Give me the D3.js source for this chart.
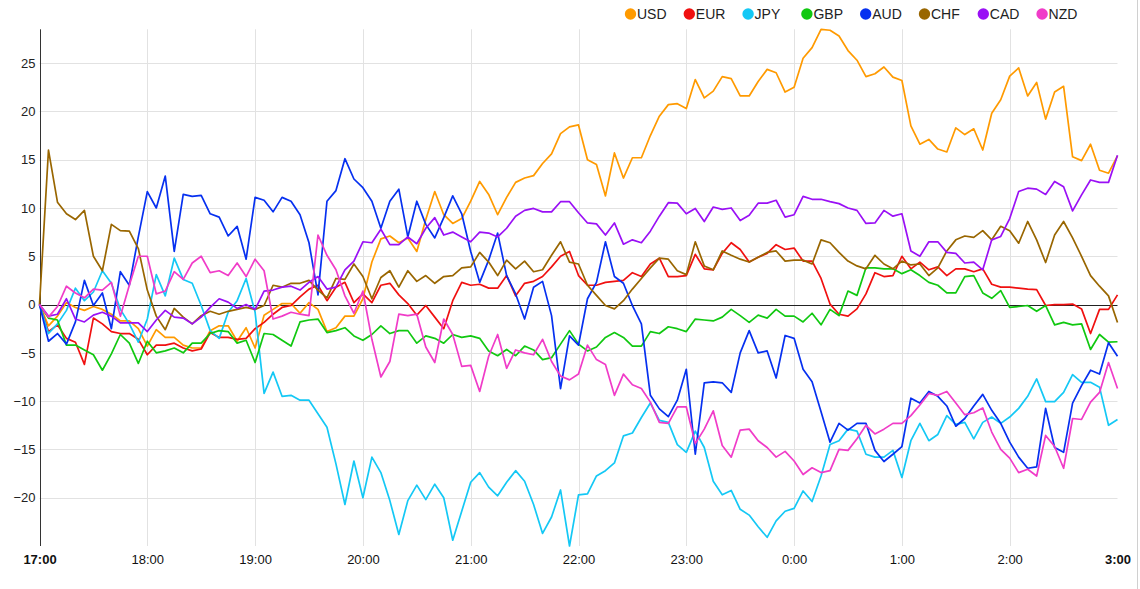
<!DOCTYPE html>
<html>
<head>
<meta charset="utf-8">
<script src="https://cdn.jsdelivr.net/npm/d3@7"></script>
<style>
  html, body { margin: 0; padding: 0; background: #fff; }
  svg { display: block; font-family: Arial, "Liberation Sans", sans-serif; }
</style>
</head>
<body>
<svg id="chart" width="1140" height="589"></svg>
<script>
// ---------- data ----------
const currencies = ["USD", "EUR", "JPY", "GBP", "AUD", "CHF", "CAD", "NZD"];
const colors = ["#ff9a00", "#f01010", "#14c8f5", "#10c810", "#0630f0", "#996600", "#9a10f5", "#f03cc8"];

const xTickLabels = ["17:00", "18:00", "19:00", "20:00", "21:00", "22:00", "23:00", "0:00", "1:00", "2:00", "3:00"];
const yTicks = [-20, -15, -10, -5, 0, 5, 10, 15, 20, 25];

const USD = [0, -2.2, -1.2, 0.2, -0.3, -0.6, -0.2, -0.5, -1.0, -1.7, -1.7, -2.5, -4.3, -2.6, -3.4, -3.4, -4.2, -4.5, -4.5, -2.7,
  -2.2, -2.2, -3.8, -2.4, -4.5, -1.1, -0.5, 0.1, 0.1, -0.9, 0.2, -0.5, -2.8, -2.4, -1.2, -1.2, 0.6, 4.4, 6.8, 7.1,
  6.4, 6.9, 5.5, 8.8, 11.7, 9.3, 8.4, 8.9, 10.7, 12.75, 11.4, 9.3, 11.1, 12.65, 13.1, 13.35, 14.6, 15.6, 17.7, 18.4,
  18.6, 15.0, 14.5, 11.25, 15.7, 13.1, 15.2, 15.2, 17.5, 19.5, 20.7, 20.8, 20.3, 23.3, 21.4, 22.1, 23.6, 23.4, 21.6, 21.6,
  23.1, 24.35, 24.0, 22.0, 22.5, 25.5, 26.6, 28.5, 28.4, 27.8, 26.3, 25.3, 23.6, 23.9, 24.6, 23.55, 23.2, 18.5, 16.6, 17.1,
  16.1, 15.8, 18.3, 17.6, 18.2, 16.0, 19.8, 21.2, 23.65, 24.5, 21.6, 23.0, 19.2, 22.0, 22.6, 15.3, 14.9, 16.6, 13.9, 13.6, 15.4];

const EUR = [0, -2.8, -2.1, -3.5, -3.9, -6.2, -1.4, -2.0, -2.8, -3.0, -3.0, -3.6, -5.2, -4.2, -4.2, -4.0, -4.5, -4.8, -4.6, -2.9,
  -3.4, -3.4, -3.6, -3.5, -2.5, -1.85, -1.0, -0.3, -0.1, 0.8, 1.6, 2.0, 0.4, 1.8, 2.3, 0.2, 1.1, 0.2, 2.0, 2.2,
  1.0, 0.1, -1.1, -0.1, -1.3, -2.5, 0.4, 2.3, 2.0, 2.1, 1.7, 1.7, 3.0, 0.9, 2.2, 2.4, 2.9, 3.9, 5.0, 5.5,
  3.0, 2.0, 2.0, 2.3, 2.4, 2.5, 3.3, 2.9, 4.2, 4.8, 2.9, 2.9, 3.0, 5.2, 3.7, 3.6, 5.3, 6.4, 5.7, 4.4,
  4.9, 5.3, 6.2, 5.7, 5.85, 4.5, 4.5, 2.7, 0.05, -1.0, -1.2, -0.45, 1.1, 3.3, 2.9, 3.0, 5.0, 3.7, 4.4, 3.6,
  3.9, 3.0, 3.7, 3.7, 3.4, 3.7, 2.1, 1.8, 1.8, 1.7, 1.6, 1.55, -0.1, 0, 0, 0.05, -0.45, -3.0, -0.5, -0.5, 1.0];

const JPY = [0, -3.0, -2.0, -0.6, 1.7, 0.4, 1.3, 3.5, 2.2, -0.5, -2.0, -3.9, -1.5, 3.1, 0.9, 4.8, 2.6, 2.2, -0.1, -2.7,
  -3.5, -0.8, 0.4, 2.7, -0.8, -9.2, -7.0, -9.5, -9.4, -9.9, -9.9, -11.3, -12.7, -16.5, -20.7, -16.2, -20.0, -15.8, -17.4, -20.3,
  -23.8, -20.3, -18.7, -20.2, -18.6, -20.0, -24.4, -21.4, -18.4, -17.4, -18.9, -19.8, -18.4, -17.2, -18.3, -20.7, -23.7, -22.0, -19.2, -25.0,
  -19.7, -19.6, -17.75, -17.2, -16.4, -13.6, -13.3, -11.7, -10.2, -12.0, -12.2, -14.5, -15.3, -13.1, -14.8, -18.3, -19.7, -19.25, -21.2, -21.8,
  -23.0, -24.1, -22.4, -21.4, -21.1, -19.3, -20.4, -17.75, -14.5, -14.1, -12.9, -13.1, -15.5, -15.8, -15.8, -15.1, -17.9, -14.1, -12.3, -14.1,
  -13.45, -11.5, -12.4, -12.2, -13.9, -12.2, -11.65, -12.3, -11.65, -10.75, -9.5, -7.7, -10.05, -10.05, -9.1, -7.25, -8.05, -8.05, -8.55, -12.5, -11.9];

const GBP = [0, -1.4, -1.6, -4.2, -4.2, -4.7, -5.2, -6.8, -5.1, -3.1, -4.0, -6.1, -3.8, -5.0, -4.8, -4.5, -5.0, -4.0, -4.0, -3.0,
  -2.7, -2.8, -4.0, -3.7, -6.0, -3.0, -3.1, -3.7, -4.3, -1.8, -1.6, -1.5, -2.9, -2.7, -2.4, -3.25, -3.7, -3.1, -2.2, -3.0,
  -2.7, -2.7, -4.0, -3.25, -3.5, -4.0, -3.1, -3.4, -3.25, -3.5, -4.8, -5.3, -4.65, -5.3, -4.3, -4.7, -5.7, -5.5, -4.1, -2.7,
  -4.1, -4.8, -4.4, -3.4, -2.9, -3.4, -4.3, -4.3, -2.8, -3.0, -2.3, -2.5, -2.8, -1.5, -1.6, -1.7, -1.3, -0.5, -1.15, -1.85,
  -1.1, -1.4, -0.5, -1.2, -1.2, -1.8, -0.9, -2.1, -0.5, -1.15, 1.4, 0.95, 3.8, 3.8, 3.7, 3.7, 3.2, 3.6, 3.0, 2.3,
  2.0, 1.2, 1.2, 2.9, 3.0, 1.2, 0.65, 1.45, -0.3, -0.2, -0.1, -0.7, -0.1, -2.1, -1.85, -2.1, -2.0, -4.65, -3.1, -3.9, -3.85];

const AUD = [0, -3.8, -3.0, -4.1, -1.8, 2.5, -0.1, 1.2, -2.5, 3.4, 2.0, 7.0, 11.7, 10.0, 13.3, 5.5, 11.4, 11.2, 11.3, 9.4,
  9.05, 7.1, 8.1, 4.7, 11.1, 10.8, 9.6, 11.1, 10.7, 9.3, 6.4, 1.0, 10.7, 11.8, 15.1, 13.0, 12.1, 10.7, 7.9, 10.7,
  11.95, 7.0, 10.7, 8.3, 6.9, 9.0, 11.25, 9.4, 5.5, 2.3, 4.6, 7.4, 3.0, 1.1, -1.5, 1.8, 2.4, -1.15, -8.7, -3.25,
  -4.2, 0.6, 2.3, 6.5, 2.9, 2.2, -0.1, -2.0, -9.4, -10.8, -11.6, -9.9, -6.7, -15.5, -8.1, -8.0, -8.1, -9.1, -5.0, -2.7,
  -5.0, -4.8, -7.6, -3.2, -3.5, -6.7, -8.0, -11.1, -14.25, -12.3, -13.0, -12.3, -12.3, -15.1, -16.25, -15.5, -14.7, -9.7, -10.2, -9.0,
  -9.5, -10.5, -12.6, -11.8, -10.5, -9.3, -10.95, -12.3, -14.25, -15.8, -16.95, -16.8, -10.75, -14.8, -15.3, -10.2, -8.4, -6.8, -7.2, -3.95, -5.35];

const CHF = [0, 16.0, 10.6, 9.4, 8.8, 9.75, 5.0, 3.5, 8.3, 7.65, 7.6, 5.8, 1.5, -1.2, -2.6, -0.4, -1.3, -2.0, -1.15, -0.7,
  -1.0, -0.7, -0.5, -0.3, -0.5, -0.1, 2.0, 1.8, 2.2, 2.2, 2.5, 1.5, 0.7, 2.7, 2.6, 4.2, 2.9, 0.6, 2.8, 3.5,
  1.8, 3.5, 2.4, 3.0, 2.2, 2.9, 3.0, 3.8, 3.9, 5.4, 4.4, 3.0, 4.6, 3.7, 4.5, 3.4, 3.6, 5.1, 6.5, 4.4,
  4.2, 2.0, 0.95, -0.1, -0.45, 0.4, 1.6, 2.7, 3.8, 4.8, 4.7, 3.5, 3.1, 6.5, 4.0, 3.6, 5.55, 5.1, 4.7, 4.4,
  4.9, 5.4, 5.55, 4.5, 4.6, 4.6, 4.2, 6.7, 6.4, 5.4, 4.5, 4.0, 3.7, 5.1, 4.2, 3.7, 4.5, 4.1, 4.2, 3.0,
  3.8, 5.55, 6.7, 7.1, 6.95, 7.65, 6.7, 8.1, 7.65, 6.35, 8.6, 6.7, 4.35, 7.2, 8.6, 6.9, 5.0, 3.0, 1.9, 0.9, -1.85];

const CAD = [0, -1.2, -1.0, 0.6, -1.5, -1.8, -1.1, -0.8, -1.2, -1.9, -1.9, -1.9, -2.8, -1.6, -0.6, -1.3, -1.4, -2.0, -1.3, -0.3,
  0.6, 0.25, -0.4, 0, -0.5, 1.4, 1.5, 1.8, 1.9, 1.5, 2.3, 2.9, 1.6, 1.8, 3.6, 4.5, 6.5, 6.4, 7.8, 6.2,
  6.2, 7.0, 6.3, 7.9, 9.0, 7.2, 7.5, 7.0, 6.5, 7.5, 7.4, 7.0, 7.9, 9.15, 9.75, 9.95, 9.6, 9.6, 10.65, 10.65,
  9.5, 8.45, 8.35, 7.2, 8.45, 6.25, 6.7, 6.4, 7.6, 9.15, 10.55, 10.5, 9.4, 9.95, 8.6, 10.1, 9.85, 10.0, 8.7, 9.25,
  10.5, 10.5, 10.8, 9.05, 9.3, 11.2, 10.9, 10.9, 10.65, 10.45, 10.0, 9.75, 8.4, 8.45, 9.75, 9.15, 9.4, 5.55, 5.0, 6.5,
  6.5, 5.4, 5.3, 4.3, 4.4, 3.6, 6.7, 7.05, 8.9, 11.7, 12.05, 11.95, 11.4, 12.75, 12.2, 9.7, 11.35, 12.9, 12.65, 12.65, 15.45];

const NZD = [0, -1.3, -0.2, 1.9, 1.2, 0.7, 1.6, 1.5, 2.3, -1.2, 2.0, 5.0, 5.0, 1.1, 1.4, 3.4, 2.6, 4.3, 5.0, 3.3,
  3.5, 3.0, 4.3, 2.9, 4.7, 3.5, -1.5, -1.2, -0.8, -1.0, -1.15, 7.2, 5.1, 3.6, 0.9, -0.9, 1.4, -3.6, -7.5, -5.9,
  -1.0, -1.15, -1.0, -4.4, -6.0, -1.5, -3.1, -6.4, -6.3, -9.0, -5.35, -3.1, -6.6, -4.7, -5.0, -5.2, -3.6, -5.9, -7.4, -7.8,
  -7.2, -4.2, -5.7, -6.2, -9.4, -7.2, -8.3, -8.7, -10.1, -12.2, -12.3, -10.6, -10.6, -14.4, -12.9, -11.0, -14.6, -15.8, -13.0, -12.9,
  -14.1, -14.8, -15.8, -15.2, -16.2, -17.6, -16.9, -17.4, -17.2, -15.0, -15.1, -13.9, -12.5, -13.4, -12.9, -12.3, -12.3, -11.5, -10.4, -9.2,
  -9.4, -9.0, -10.2, -11.4, -11.2, -10.7, -13.2, -15.0, -15.9, -17.4, -17.05, -17.75, -13.55, -14.7, -16.95, -11.8, -11.9, -10.1, -9.1, -6.0, -8.7];

const seriesValues = [USD, EUR, JPY, GBP, AUD, CHF, CAD, NZD];

// ---------- layout ----------
const W = 1140, H = 589;
const plot = { left: 39.5, right: 1117.5, top: 29.3, bottom: 546 };

const svg = d3.select("#chart");

const start = new Date(2020, 0, 1, 17, 0);
const end = new Date(2020, 0, 2, 3, 0);
const times = d3.timeMinute.every(5).range(start, d3.timeMinute.offset(end, 1));
const hourTicks = d3.timeHour.range(start, d3.timeMinute.offset(end, 1));

const x = d3.scaleTime().domain([start, end]).range([plot.left, plot.right]);
const allVals = seriesValues.flat();
const y = d3.scaleLinear().domain(d3.extent(allVals)).range([plot.bottom, plot.top]);

// gridlines
const grid = svg.append("g").attr("class", "grid");
grid.selectAll("line.h").data(yTicks.filter(d => d !== 0)).join("line")
  .attr("x1", plot.left).attr("x2", plot.right)
  .attr("y1", d => Math.round(y(d)) + 0.5).attr("y2", d => Math.round(y(d)) + 0.5)
  .attr("stroke", "#e2e2e2").attr("stroke-width", 1);
grid.selectAll("line.v").data(hourTicks.slice(1, -1)).join("line")
  .attr("x1", d => Math.round(x(d)) + 0.5).attr("x2", d => Math.round(x(d)) + 0.5)
  .attr("y1", plot.top).attr("y2", plot.bottom)
  .attr("stroke", "#e2e2e2").attr("stroke-width", 1);

// y axis labels
const yAxis = d3.axisLeft(y).tickValues(yTicks).tickSize(0).tickPadding(4);
const yg = svg.append("g").attr("transform", `translate(${plot.left},0)`).call(yAxis);
yg.select(".domain").remove();
yg.selectAll("text").attr("font-size", 13).attr("fill", "#222")
  .attr("font-family", "Arial, 'Liberation Sans', sans-serif");

// x axis labels
const xAxis = d3.axisBottom(x).tickValues(hourTicks).tickSize(0).tickPadding(9)
  .tickFormat((d, i) => xTickLabels[i]);
const xg = svg.append("g").attr("transform", `translate(0,${plot.bottom})`).call(xAxis);
xg.select(".domain").remove();
xg.selectAll("text").attr("font-size", 13).attr("fill", "#111")
  .attr("font-family", "Arial, 'Liberation Sans', sans-serif")
  .attr("font-weight", (d, i, n) => (i === 0 || i === n.length - 1) ? "bold" : "normal");

// y axis line
svg.append("line")
  .attr("x1", Math.round(plot.left) + 0.5).attr("x2", Math.round(plot.left) + 0.5)
  .attr("y1", plot.top).attr("y2", plot.bottom)
  .attr("stroke", "#333").attr("stroke-width", 1);

// zero line
svg.append("line")
  .attr("x1", plot.left).attr("x2", plot.right)
  .attr("y1", Math.round(y(0)) + 0.5).attr("y2", Math.round(y(0)) + 0.5)
  .attr("stroke", "#222").attr("stroke-width", 1);

// series lines
const line = d3.line().x((d, i) => x(times[i])).y(d => y(d));
svg.append("g").selectAll("path").data(seriesValues).join("path")
  .attr("d", d => line(d))
  .attr("fill", "none")
  .attr("stroke", (d, i) => colors[i])
  .attr("stroke-width", 1.7)
  .attr("stroke-linejoin", "round");

// legend
const legend = svg.append("g");
const items = legend.selectAll("g").data(currencies).join("g")
  .attr("transform", (d, i) => `translate(${630.5 + i * 58.8},14)`);
items.append("circle").attr("r", 5.7).attr("fill", (d, i) => colors[i]);
items.append("text").attr("x", 6.5).attr("y", 5).text(d => d)
  .attr("font-size", 14).attr("fill", "#222")
  .attr("font-family", "Arial, 'Liberation Sans', sans-serif");

// right border line of container
svg.append("line").attr("x1", 1137.5).attr("x2", 1137.5).attr("y1", 0).attr("y2", H)
  .attr("stroke", "#d0d0d0").attr("stroke-width", 1);
</script>
</body>
</html>
